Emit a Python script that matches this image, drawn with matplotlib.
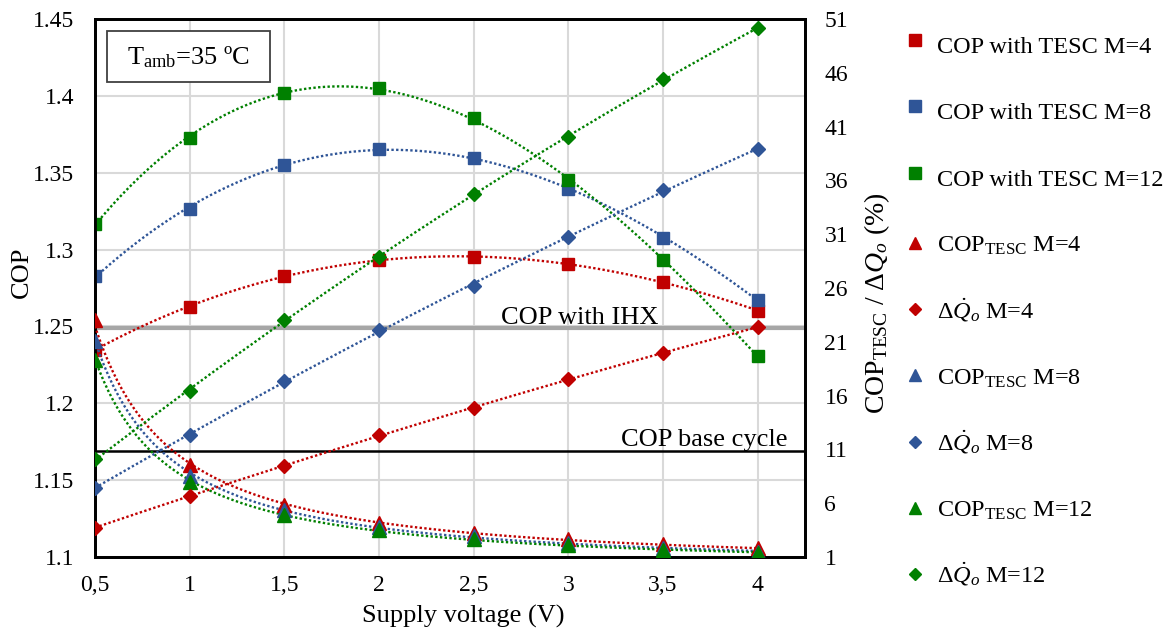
import numpy as np
import matplotlib
matplotlib.use("Agg")
import matplotlib.pyplot as plt
from matplotlib.lines import Line2D
from matplotlib.patches import Rectangle

plt.rcParams['font.family'] = ['Liberation Serif', 'DejaVu Serif']
plt.rcParams['mathtext.fontset'] = 'custom'
plt.rcParams['mathtext.rm'] = 'Liberation Serif'
plt.rcParams['mathtext.it'] = 'Liberation Serif:italic'
plt.rcParams['mathtext.bf'] = 'Liberation Serif:bold'

# ---------------- data ----------------
voltage = [0.5, 1.0, 1.5, 2.0, 2.5, 3.0, 3.5, 4.0]
x_tick_labels = ["0,5", "1", "1,5", "2", "2,5", "3", "3,5", "4"]

cop_tesc_m4 = [1.2348, 1.2629, 1.2827, 1.2933, 1.2951, 1.2905, 1.2788, 1.2603]
cop_tesc_m8 = [1.2825, 1.3265, 1.3551, 1.3655, 1.3598, 1.3393, 1.3078, 1.2673]
cop_tesc_m12 = [1.3167, 1.3724, 1.4019, 1.4050, 1.3854, 1.3453, 1.2929, 1.2309]

coptesc_m4 = [23.0, 9.55, 5.83, 4.13, 3.20, 2.64, 2.18, 1.81]
coptesc_m8 = [21.1, 8.53, 5.37, 3.82, 2.95, 2.27, 1.81, 1.50]
coptesc_m12 = [19.3, 8.00, 4.90, 3.51, 2.64, 2.12, 1.65, 1.40]

dq_m4 = [3.72, 6.67, 9.46, 12.37, 14.82, 17.51, 19.93, 22.40]
dq_m8 = [7.44, 12.34, 17.33, 22.10, 26.21, 30.71, 35.11, 38.89]
dq_m12 = [10.08, 16.43, 23.03, 28.91, 34.71, 40.06, 45.39, 50.13]

cop_ihx = 1.249
cop_base = 1.1687

left_ticks = [1.1, 1.15, 1.2, 1.25, 1.3, 1.35, 1.4, 1.45]
left_tick_labels = ["1.1", "1.15", "1.2", "1.25", "1.3", "1.35", "1.4", "1.45"]
right_ticks = [1, 6, 11, 16, 21, 26, 31, 36, 41, 46, 51]

legend_labels = [
    "COP with TESC M=4",
    "COP with TESC M=8",
    "COP with TESC M=12",
    r"COP$_{\mathrm{TESC}}$ M=4",
    r"$\Delta\dot{Q}_o$ M=4",
    r"COP$_{\mathrm{TESC}}$ M=8",
    r"$\Delta\dot{Q}_o$ M=8",
    r"COP$_{\mathrm{TESC}}$ M=12",
    r"$\Delta\dot{Q}_o$ M=12",
]

RED = '#C00000'
BLUE = '#2F5597'
GREEN = '#008000'

W, H = 1169, 639

# ---------------- figure ----------------
fig = plt.figure(figsize=(W / 100, H / 100), dpi=100)
ax = fig.add_axes([95 / W, 1 - 557 / H, (805 - 95) / W, (557 - 19) / H])
ax2 = ax.twinx()

x = np.array(voltage)
xs = np.linspace(0.5, 4.0, 300)
dot = (0, (1, 1.0))
LW = 1.7

FS = 17
FS_BIG = 19

ax.set_xlim(0.5, 4.25)
ax.set_ylim(1.1, 1.45)
ax2.set_ylim(1, 51)

ax.set_xticks(voltage)
ax.set_xticklabels(x_tick_labels, fontsize=FS)
ax.set_yticks(left_ticks)
ax.set_yticklabels(left_tick_labels, fontsize=FS)
ax2.set_yticks(right_ticks)
ax2.set_yticklabels([str(t) for t in right_ticks], fontsize=FS)
ax.tick_params(axis='y', length=0, pad=15)
ax2.tick_params(axis='y', length=0, pad=14)
ax.tick_params(axis='x', length=0, pad=13)

ax.grid(True, color='#D9D9D9', linewidth=1.5)
ax.set_axisbelow(True)
for a in (ax, ax2):
    for s in a.spines.values():
        s.set_linewidth(2)
        s.set_color('black')

# reference lines
ax.axhline(cop_ihx, color='#A6A6A6', linewidth=3, zorder=2)
ax.axhline(cop_base, color='black', linewidth=1.8, zorder=2)
ax.text(3.474, 1.2514, "COP with IHX", fontsize=FS_BIG, ha='right', va='baseline')
ax.text(4.155, 1.1719, "COP base cycle", fontsize=FS_BIG, ha='right', va='baseline')

# squares on left axis with polynomial trendlines
for ys, c in ((cop_tesc_m4, RED), (cop_tesc_m8, BLUE), (cop_tesc_m12, GREEN)):
    p = np.polyfit(x, ys, 3)
    ax.plot(xs, np.polyval(p, xs), linestyle=dot, color=c, linewidth=LW, zorder=3)
    ax.plot(x, ys, linestyle='none', marker='s', markersize=9, color=c, zorder=4)

# triangles (power trendline) and diamonds (polynomial trendline) on right axis
for ys, c in ((coptesc_m4, RED), (coptesc_m8, BLUE), (coptesc_m12, GREEN)):
    b, a = np.polyfit(np.log(x), np.log(ys), 1)
    ax2.plot(xs, np.exp(a) * xs ** b, linestyle=dot, color=c, linewidth=LW, zorder=3)
    ax2.plot(x, ys, linestyle='none', marker='^', markersize=10, color=c, zorder=4)
for ys, c in ((dq_m4, RED), (dq_m8, BLUE), (dq_m12, GREEN)):
    p = np.polyfit(x, ys, 2)
    ax2.plot(xs, np.polyval(p, xs), linestyle=dot, color=c, linewidth=LW, zorder=3)
    ax2.plot(x, ys, linestyle='none', marker='D', markersize=7.5, color=c, zorder=4)

ax.set_xlabel("Supply voltage (V)", fontsize=FS_BIG)
ax.xaxis.set_label_coords((463 - 95) / 710, -(605 - 557) / 538)
ax.set_ylabel("COP", fontsize=FS_BIG)
ax.yaxis.set_label_coords((33 - 95) / 710, 1 - (272 - 19) / 538)
ax2.set_ylabel(r"COP$_{\mathrm{TESC}}$ / $\mathit{\Delta Q_o}$ (%)", fontsize=FS_BIG + 1)
ax2.yaxis.set_label_coords((862 - 95) / 710, 1 - (303 - 19) / 538)

# annotation box
ax.add_patch(Rectangle(((107 - 95) / 710, 1 - (82 - 19) / 538), (270 - 107) / 710, (82 - 31) / 538,
                       transform=ax.transAxes, facecolor='white', edgecolor='#404040',
                       linewidth=1.3, zorder=5))
ax.text((188 - 95) / 710, 1 - (57 - 19) / 538, r"T$_{\mathrm{amb}}$=35 ºC", transform=ax.transAxes,
        fontsize=FS_BIG, ha='center', va='center', zorder=6)

# legend (placed entry by entry)
legend_markers = [('s', RED), ('s', BLUE), ('s', GREEN),
                  ('^', RED), ('D', RED), ('^', BLUE), ('D', BLUE), ('^', GREEN), ('D', GREEN)]
legend_ms = {'s': 8.5, '^': 8, 'D': 6.2}
for i, ((m, c), lab) in enumerate(zip(legend_markers, legend_labels)):
    base = 53 + 66.25 * i
    my = base - (13 if m == 's' else 9)
    fig.add_artist(Line2D([915 / W], [1 - my / H], transform=fig.transFigure,
                          linestyle='none', marker=m, markersize=legend_ms[m], color=c))
    fig.text(937 / W, 1 - base / H, lab, fontsize=FS + 0.5, ha='left', va='baseline')

fig.savefig("out.png", dpi=100)
